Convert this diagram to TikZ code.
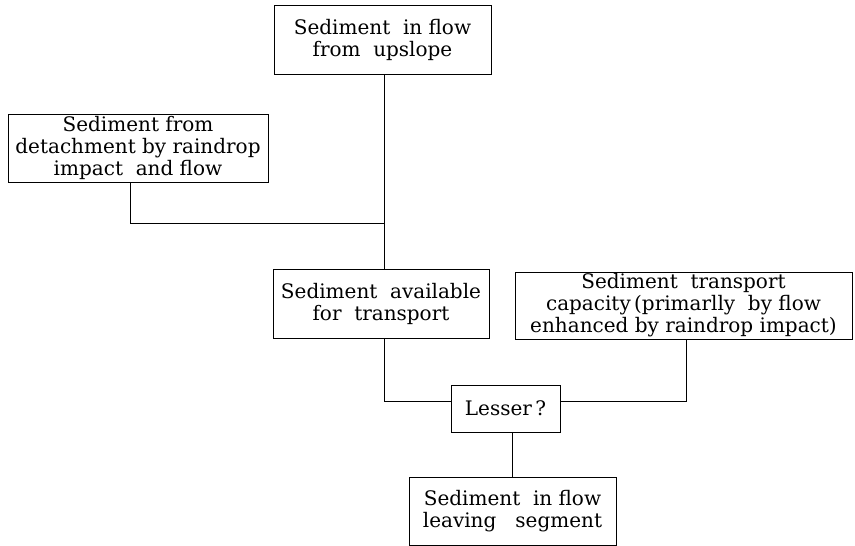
\documentclass[tikz,border=0pt]{standalone}
\usepackage{fontspec}
\setmainfont{DejaVu Serif}
\begin{document}
\begin{tikzpicture}[x=1pt,y=1pt,
  box/.style={draw, line width=0.8pt, inner sep=0pt, align=center,
    font=\fontsize{20}{22}\selectfont},
  link/.style={line width=0.8pt}]
\useasboundingbox (0,0) rectangle (855,-546);
\node[box, minimum width=217, minimum height=69] (b1) at (382.5,-39.5) {Sediment\ \ in flow\\from\ \ upslope};
\node[box, minimum width=260, minimum height=68] (b2) at (138,-148) {Sediment from\\detachment by raindrop\\impact\ \ and flow};
\node[box, minimum width=216, minimum height=69] (b3) at (381,-303.5) {Sediment\ \ available\\for\ \ transport};
\node[box, minimum width=337, minimum height=67] (b4) at (683.5,-305.5) {Sediment\ \ transport\\capacity\,(primarlly\ \ by flow\\enhanced by raindrop impact)};
\node[box, minimum width=109, minimum height=47] (ls) at (505.5,-408.5) {Lesser\,?};
\node[box, minimum width=207, minimum height=68] (b5) at (512.5,-511) {Sediment\ \ in flow\\leaving\ \ \ segment};
\coordinate (j1) at (384,-223);
\draw[link] (j1 |- b1.south) -- (j1 |- b3.north);
\draw[link] ([xshift=-8pt]b2.south) |- (j1);
\draw[link] ([xshift=3pt]b3.south) |- ([yshift=7pt]ls.west);
\draw[link] ([xshift=2.5pt]b4.south) |- ([yshift=7pt]ls.east);
\draw[link] (b5.north |- ls.south) -- (b5.north);
\end{tikzpicture}
\end{document}
